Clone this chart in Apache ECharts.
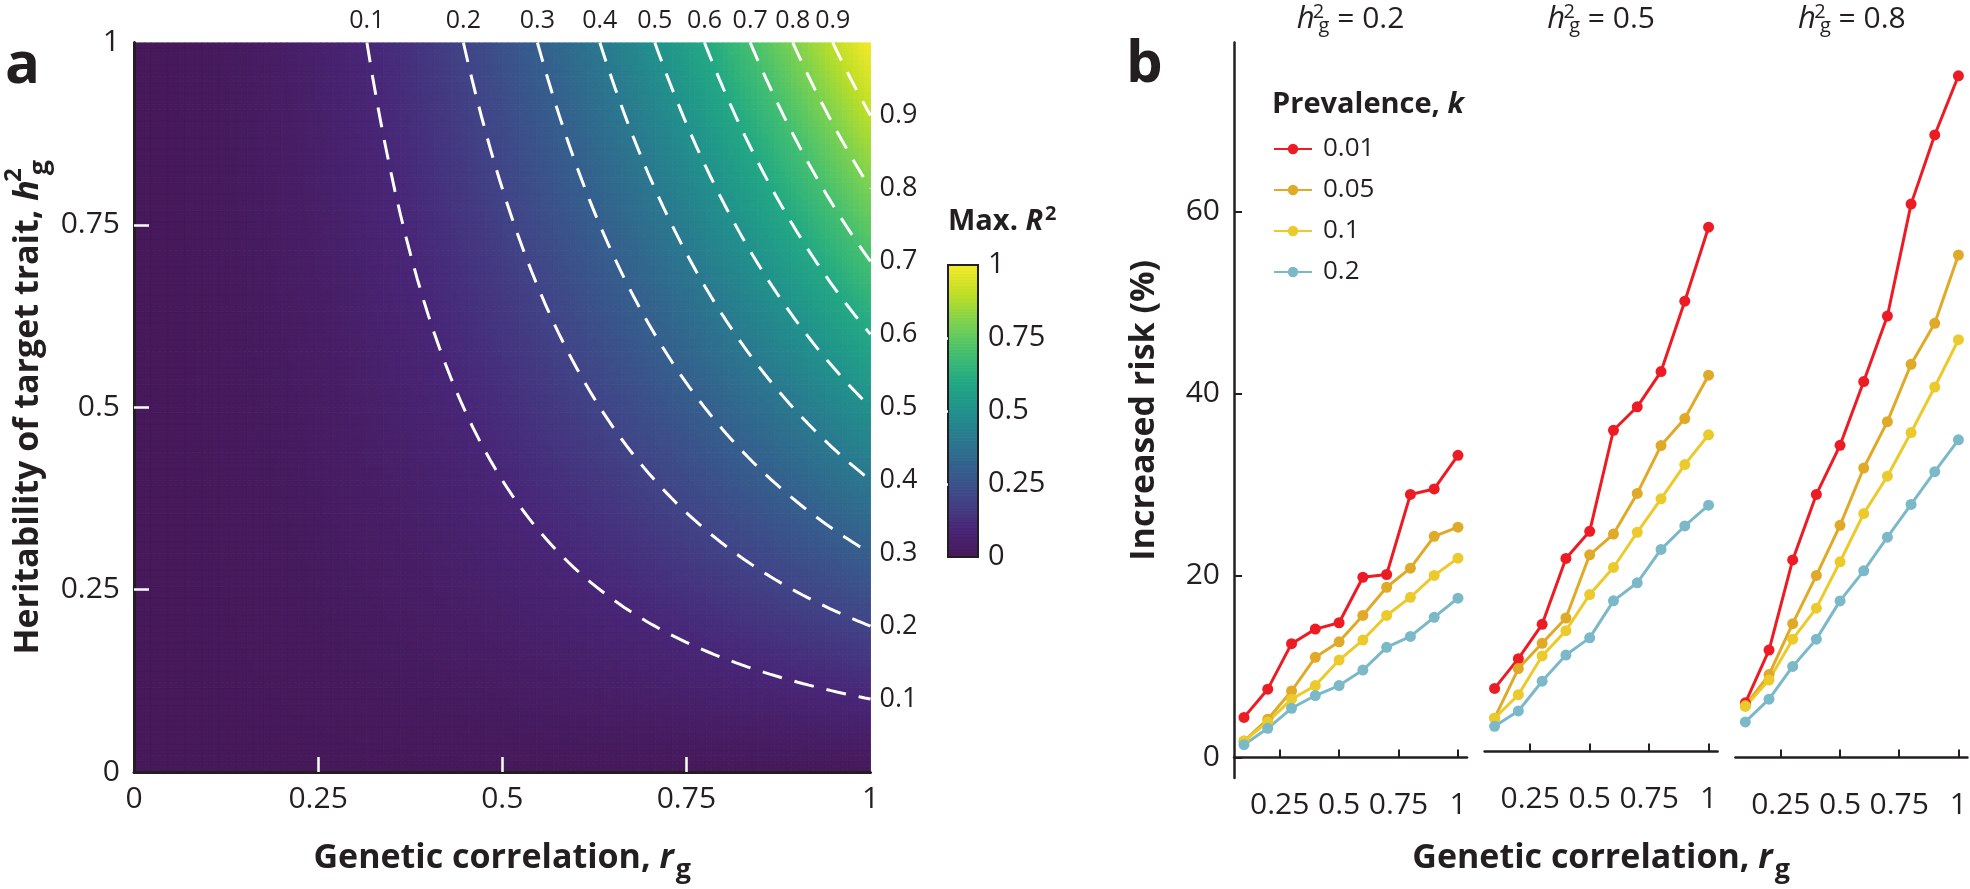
<!DOCTYPE html>
<html>
<head>
<meta charset="utf-8">
<script src="https://cdn.jsdelivr.net/npm/echarts@6/dist/echarts.min.js"></script>
<style>
html,body{margin:0;padding:0;background:#ffffff;}
#chart{width:1970px;height:889px;}
</style>
</head>
<body>
<div id="chart"></div>
<script>
// ================= DATA =================
// Panel a: contour levels of max R^2 (= rg^2 * h2g), ticks
const contourLevels = [0.1, 0.2, 0.3, 0.4, 0.5, 0.6, 0.7, 0.8, 0.9];
const panelATicks = [0, 0.25, 0.5, 0.75, 1];
const panelAInnerTicks = [0.25, 0.5, 0.75];
const colorbarTicks = [0, 0.25, 0.5, 0.75, 1];
const colorbarInnerTicks = [0.25, 0.5, 0.75];
const viridis = ['#46195a', '#482677', '#414487', '#355f8d', '#2a788e', '#21918c', '#22a884', '#44bf70', '#7ad151', '#bddf26', '#f5e82a'];

// Panel b: increased risk (%) vs genetic correlation
const heritabilityPanels = ['0.2', '0.5', '0.8'];
const prevalences = ['0.01', '0.05', '0.1', '0.2'];
const prevalenceColors = ['#ed1c24', '#e0aa28', '#ecca2c', '#7bb9c8'];
const rgPoints = [0.1, 0.2, 0.3, 0.4, 0.5, 0.6, 0.7, 0.8, 0.9, 1.0];
const riskTicks = [0, 20, 40, 60];
const rgTicksB = [0.25, 0.5, 0.75, 1];

// h2g = 0.2
const risk_h02_k001 = [4.4, 7.5, 12.5, 14.1, 14.8, 19.8, 20.1, 28.9, 29.5, 33.2];
const risk_h02_k005 = [1.8, 4.2, 7.3, 11.0, 12.7, 15.6, 18.7, 20.8, 24.3, 25.3];
const risk_h02_k01  = [1.8, 3.9, 6.4, 7.9, 10.7, 12.9, 15.6, 17.6, 20.0, 21.9];
const risk_h02_k02  = [1.4, 3.2, 5.4, 6.8, 7.9, 9.6, 12.1, 13.3, 15.4, 17.5];
// h2g = 0.5
const risk_h05_k001 = [7.0, 10.3, 14.1, 21.4, 24.4, 35.6, 38.2, 42.1, 49.9, 58.1];
const risk_h05_k005 = [3.7, 9.2, 12.0, 14.8, 21.8, 24.1, 28.6, 33.9, 36.9, 41.7];
const risk_h05_k01  = [3.7, 6.3, 10.6, 13.4, 17.4, 20.4, 24.3, 28.0, 31.8, 35.1];
const risk_h05_k02  = [2.8, 4.5, 7.8, 10.7, 12.6, 16.7, 18.7, 22.4, 25.0, 27.3];
// h2g = 0.8
const risk_h08_k001 = [6.0, 11.8, 21.7, 28.9, 34.3, 41.3, 48.5, 60.8, 68.4, 74.9];
const risk_h08_k005 = [5.7, 9.1, 14.7, 20.0, 25.5, 31.8, 36.9, 43.2, 47.7, 55.2];
const risk_h08_k01  = [5.6, 8.5, 13.0, 16.4, 21.5, 26.8, 30.9, 35.7, 40.7, 45.9];
const risk_h08_k02  = [3.9, 6.4, 10.0, 13.0, 17.2, 20.5, 24.2, 27.8, 31.4, 34.9];

const riskByPanel = [
  [risk_h02_k001, risk_h02_k005, risk_h02_k01, risk_h02_k02],
  [risk_h05_k001, risk_h05_k005, risk_h05_k01, risk_h05_k02],
  [risk_h08_k001, risk_h08_k005, risk_h08_k01, risk_h08_k02]
];

// ================= LAYOUT / STYLE =================
const FONT = '"Open Sans", "Noto Sans", sans-serif';
const TXT = '#231f20';
const A = {left: 134, top: 42.5, width: 736.5, height: 735.5};
const CB = {left: 948, top: 265, width: 30, height: 292};
const B = {lefts: [1234, 1484.6, 1735.4], top: 42.5, width: 233, height: 735.5};
const B_XMIN = 0.058, B_XMAX = 1.038, B_YMIN = -2.26, B_YMAX = 78.56;
const HEAT_N = 130;
const CB_N = 100;

// Heatmap cells (cell centres); max R^2 = rg^2 * h2g
const rgCells = Array.from({length: HEAT_N}, (_, i) => (i + 0.5) / HEAT_N);
const h2Cells = Array.from({length: HEAT_N}, (_, j) => (j + 0.5) / HEAT_N);
const heatData = [];
rgCells.forEach(rg => h2Cells.forEach(h2 => heatData.push([rg, h2, rg * rg * h2])));
const cbCells = Array.from({length: CB_N}, (_, j) => (j + 0.5) / CB_N);
const cbData = cbCells.map(v => [0.5, v, v]);

function cellRenderer(halfX, halfY) {
  return function (params, api) {
    const x = api.value(0), y = api.value(1);
    const p0 = api.coord([x - halfX, y + halfY]);
    const p1 = api.coord([x + halfX, y - halfY]);
    const c = api.visual('color');
    return {type: 'rect', shape: {x: p0[0], y: p0[1], width: p1[0] - p0[0], height: p1[1] - p0[1]},
            style: {fill: c, stroke: c, lineWidth: 0.9}};
  };
}

// ================= OPTION =================
const grids = [
  {left: A.left, top: A.top, width: A.width, height: A.height},                                   // 0 panel a
  {left: CB.left, top: CB.top, width: CB.width, height: CB.height, show: true,
   borderColor: TXT, borderWidth: 2, backgroundColor: 'transparent', z: 10}                        // 1 colorbar
];
B.lefts.forEach(l => grids.push({left: l, top: B.top, width: B.width, height: B.height}));

const tickLabel = {fontFamily: FONT, fontSize: 30, color: TXT};
const boldName = (size) => ({
  fontFamily: FONT, fontSize: size, fontWeight: 'bold', color: TXT, lineHeight: 52,
  rich: {
    i: {fontFamily: FONT, fontSize: size, fontWeight: 'bold', fontStyle: 'italic', color: TXT, lineHeight: 52, padding: [0, 2, 0, 0]},
    h: {fontFamily: FONT, fontSize: size, fontWeight: 'bold', fontStyle: 'italic', color: TXT, lineHeight: 52, padding: [0, 5, 0, 0]},
    s: {fontFamily: FONT, fontSize: Math.round(size * 0.7), fontWeight: 'bold', color: TXT, verticalAlign: 'top', align: 'left', width: 0, lineHeight: 22},
    g: {fontFamily: FONT, fontSize: Math.round(size * 0.78), fontWeight: 'bold', color: TXT, verticalAlign: 'bottom', align: 'left', lineHeight: 22}
  }
});

const xAxes = [
  {gridIndex: 0, type: 'value', min: 0, max: 1, z: 6,
   axisLine: {show: true, lineStyle: {color: TXT, width: 3}},
   axisTick: {show: true, inside: true, length: 15, customValues: panelAInnerTicks, lineStyle: {color: '#ffffff', width: 2.5}},
   axisLabel: Object.assign({customValues: panelATicks, margin: 12}, tickLabel),
   splitLine: {show: false},
   name: 'Genetic correlation, {i|r}{g|g}', nameLocation: 'middle', nameGap: 60, nameTextStyle: boldName(34)},
  {gridIndex: 1, type: 'value', min: 0, max: 1, show: false}
];
const yAxes = [
  {gridIndex: 0, type: 'value', min: 0, max: 1, z: 6,
   axisLine: {show: true, lineStyle: {color: TXT, width: 3}},
   axisTick: {show: true, inside: true, length: 15, customValues: panelAInnerTicks, lineStyle: {color: '#ffffff', width: 2.5}},
   axisLabel: Object.assign({customValues: panelATicks, margin: 14}, tickLabel),
   splitLine: {show: false},
   name: 'Heritability of target trait, {h|h}{s|2}{g|g}', nameLocation: 'middle', nameGap: 80, nameTextStyle: boldName(34)},
  {gridIndex: 1, type: 'value', min: 0, max: 1, position: 'right', z: 12,
   axisLine: {show: false},
   axisTick: {show: true, inside: true, length: 8, customValues: colorbarInnerTicks, lineStyle: {color: '#ffffff', width: 2.5}},
   axisLabel: Object.assign({customValues: colorbarTicks, margin: 10}, tickLabel, {fontSize: 29}),
   splitLine: {show: false}}
];

B.lefts.forEach((l, p) => {
  const gi = 2 + p;
  xAxes.push({
    gridIndex: gi, type: 'value', min: B_XMIN, max: B_XMAX,
    axisLine: {show: true, lineStyle: {color: TXT, width: 2.5}},
    axisTick: {show: true, inside: true, length: 8, customValues: rgTicksB, lineStyle: {color: TXT, width: 2}},
    axisLabel: Object.assign({customValues: rgTicksB, margin: 12}, tickLabel),
    splitLine: {show: false},
    name: p === 1 ? 'Genetic correlation, {i|r}{g|g}' : '', nameLocation: 'middle', nameGap: 60, nameTextStyle: boldName(34)
  });
  yAxes.push(p === 0 ? {
    gridIndex: gi, type: 'value', min: B_YMIN, max: B_YMAX,
    axisLine: {show: true, lineStyle: {color: TXT, width: 2.5}},
    axisTick: {show: true, inside: true, length: 8, customValues: riskTicks, lineStyle: {color: TXT, width: 2}},
    axisLabel: Object.assign({customValues: riskTicks, margin: 14}, tickLabel),
    splitLine: {show: false},
    name: 'Increased risk (%)', nameLocation: 'middle', nameGap: 64, nameTextStyle: boldName(34)
  } : {gridIndex: gi, type: 'value', min: B_YMIN, max: B_YMAX, show: false});
});

const series = [];
series.push({type: 'custom', xAxisIndex: 0, yAxisIndex: 0, data: heatData, encode: {x: 0, y: 1},
             renderItem: cellRenderer(0.5 / HEAT_N, 0.5 / HEAT_N), progressive: 0, silent: true, clip: true, z: 1});
series.push({type: 'custom', xAxisIndex: 1, yAxisIndex: 1, data: cbData, encode: {x: 0, y: 1},
             renderItem: cellRenderer(0.5, 0.5 / CB_N), progressive: 0, silent: true, clip: true, z: 1});

const contourLabel = {show: true, fontFamily: FONT, fontSize: 25, color: TXT};
contourLevels.forEach(c => {
  const start = Math.sqrt(c);
  const M = 90;
  const data = [];
  for (let i = 0; i <= M; i++) {
    const rg = start + (1 - start) * i / M;
    const item = {value: [rg, Math.min(1, c / (rg * rg))]};
    if (i === 0) item.label = Object.assign({position: 'top', distance: 9, formatter: String(c)}, contourLabel);
    if (i === M) item.label = Object.assign({position: 'right', distance: 9, formatter: String(c)}, contourLabel, {fontSize: 27});
    data.push(item);
  }
  series.push({type: 'line', xAxisIndex: 0, yAxisIndex: 0, data, symbol: 'circle', symbolSize: 0,
               showAllSymbol: true, silent: true, z: 5,
               lineStyle: {color: '#ffffff', width: 3, type: [20, 13]}, itemStyle: {color: '#ffffff'}});
});

riskByPanel.forEach((arrs, p) => {
  arrs.forEach((arr, k) => {
    series.push({
      type: 'line', name: prevalences[k], xAxisIndex: 2 + p, yAxisIndex: 2 + p,
      data: rgPoints.map((x, i) => [x, arr[i]]),
      symbol: 'circle', symbolSize: 11, showAllSymbol: true,
      lineStyle: {color: prevalenceColors[k], width: 3},
      itemStyle: {color: prevalenceColors[k]}
    });
  });
});

const titles = [
  {text: 'a', left: 5, top: 36, padding: 0, textStyle: {fontFamily: FONT, fontSize: 58, fontWeight: 'bold', color: TXT, lineHeight: 60}},
  {text: 'b', left: 1126, top: 35, padding: 0, textStyle: {fontFamily: FONT, fontSize: 58, fontWeight: 'bold', color: TXT, lineHeight: 60}},
  {text: 'Max. {i|R}{s|2}', left: CB.left, top: 204, padding: 0,
   textStyle: {fontFamily: FONT, fontSize: 29, fontWeight: 'bold', color: TXT, lineHeight: 36,
     rich: {i: {fontFamily: FONT, fontSize: 29, fontWeight: 'bold', fontStyle: 'italic', color: TXT, lineHeight: 36, padding: [0, 2, 0, 0]},
            s: {fontFamily: FONT, fontSize: 20, fontWeight: 'bold', color: TXT, verticalAlign: 'top', lineHeight: 22}}}},
  {text: 'Prevalence, {i|k}', left: 1272, top: 87, padding: 0,
   textStyle: {fontFamily: FONT, fontSize: 29, fontWeight: 'bold', color: TXT, lineHeight: 36,
     rich: {i: {fontFamily: FONT, fontSize: 29, fontWeight: 'bold', fontStyle: 'italic', color: TXT, lineHeight: 36}}}}
];
heritabilityPanels.forEach((h, p) => {
  titles.push({
    text: '{i|h}{s|2}{g|g}{n| = ' + h + '}', left: B.lefts[p] + B.width / 2, textAlign: 'center', top: 2, padding: 0,
    textStyle: {fontFamily: FONT, fontSize: 30, fontWeight: 'normal', color: TXT, lineHeight: 34,
      rich: {
        i: {fontFamily: FONT, fontSize: 31, fontWeight: 'normal', fontStyle: 'italic', color: TXT, lineHeight: 34, padding: [0, 4, 0, 0]},
        s: {fontFamily: FONT, fontSize: 20, fontWeight: 'normal', color: TXT, verticalAlign: 'top', align: 'left', width: 0, lineHeight: 19},
        g: {fontFamily: FONT, fontSize: 20, fontWeight: 'normal', color: TXT, verticalAlign: 'bottom', align: 'left', lineHeight: 19},
        n: {fontFamily: FONT, fontSize: 30, fontWeight: 'normal', color: TXT, lineHeight: 34}
      }}
  });
});

const option = {
  backgroundColor: '#ffffff',
  animation: false,
  title: titles,
  grid: grids,
  xAxis: xAxes,
  yAxis: yAxes,
  visualMap: {type: 'continuous', show: false, min: 0, max: 1, dimension: 2, seriesIndex: [0, 1],
              inRange: {color: viridis}},
  legend: {
    data: prevalences, orient: 'vertical', left: 1273, top: 134, padding: 0,
    itemWidth: 38, itemHeight: 13, itemGap: 11,
    textStyle: {fontFamily: FONT, fontSize: 26, color: TXT, lineHeight: 30, padding: [0, 0, 0, 6]}
  },
  series
};

const chart = echarts.init(document.getElementById('chart'), null, {renderer: 'canvas'});
chart.setOption(option);
</script>
</body>
</html>
